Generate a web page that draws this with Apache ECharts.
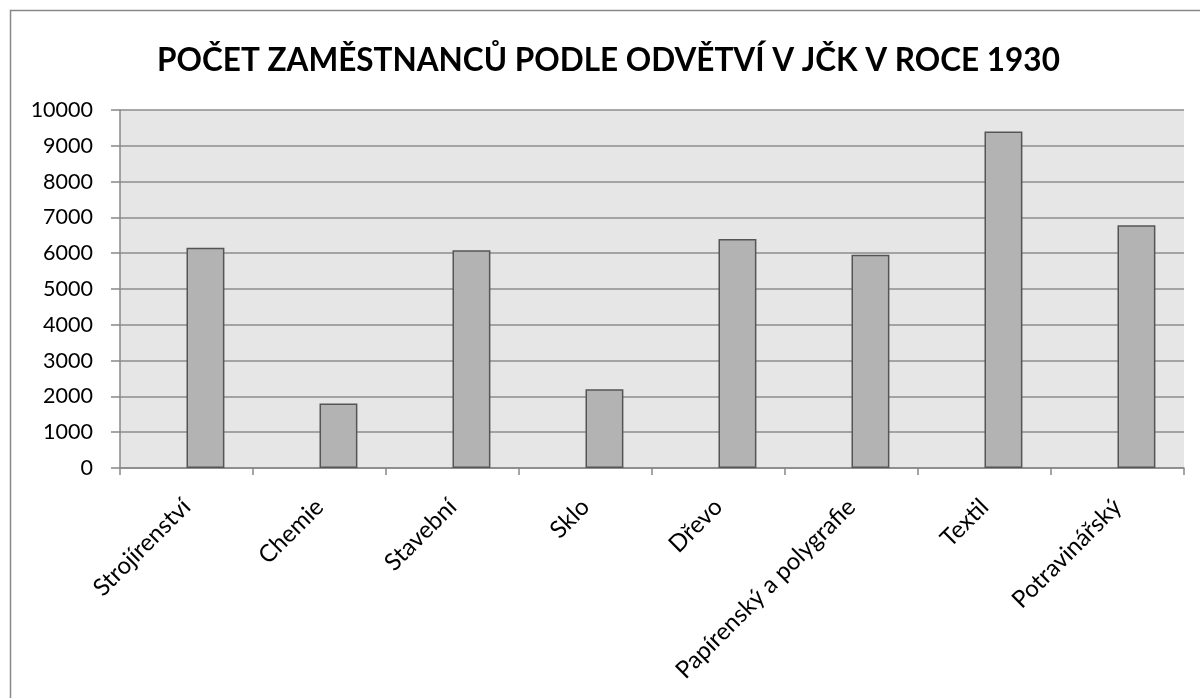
<!DOCTYPE html>
<html>
<head>
<meta charset="utf-8">
<script src="https://cdn.jsdelivr.net/npm/echarts@6/dist/echarts.min.js"></script>
<style>html,body{margin:0;padding:0;background:#fff}#c{width:1200px;height:698px}</style>
</head>
<body>
<div id="c"></div>
<script>
const titleText = 'POČET ZAMĚSTNANCŮ PODLE ODVĚTVÍ V JČK V ROCE 1930';
const categories = ['Strojírenství','Chemie','Stavební','Sklo','Dřevo','Papírenský a polygrafie','Textil','Potravinářský'];
const emptySeries = [null,null,null,null,null,null,null,null];
const employees = [6150,1800,6080,2200,6400,5960,9400,6780];
const yTicks = [0,1000,2000,3000,4000,5000,6000,7000,8000,9000,10000];

const chart = echarts.init(document.getElementById('c'), null, {renderer:'canvas'});
const font = 'Lato, "Noto Sans", sans-serif';
chart.setOption({
  animation:false,
  backgroundColor:'#fff',
  graphic:[{type:'rect', shape:{x:10.5,y:10.5,width:1200,height:700}, style:{fill:'none',stroke:'#888',lineWidth:1.5}, z:-1}],
  title:{text:titleText,left:152,top:40,textStyle:{fontFamily:font,fontWeight:'bold',fontSize:31.5,color:'#000'}},
  grid:{left:120,right:16,top:110,bottom:230,show:true,backgroundColor:'#e6e6e6',borderWidth:0},
  xAxis:{type:'category',data:categories,
    axisLine:{lineStyle:{color:'#888',width:1.5}},
    axisTick:{show:true,length:7,lineStyle:{color:'#888',width:1.5}},
    axisLabel:{rotate:45,fontFamily:font,fontSize:24,color:'#000',margin:18,interval:0,verticalAlign:'top',padding:[0,12,0,0]}},
  yAxis:{type:'value',min:yTicks[0],max:yTicks[yTicks.length-1],interval:1000,
    axisLine:{show:true,lineStyle:{color:'#888',width:1.5}},
    axisTick:{show:true,length:9,lineStyle:{color:'#888',width:1.5}},
    splitLine:{lineStyle:{color:'#8c8c8c',width:1.5}},
    axisLabel:{fontFamily:font,fontSize:21.5,color:'#000',margin:27,formatter:function(v){return String(v);}}},
  series:[
    {type:'bar',name:'Řada 1',data:emptySeries,barGap:'0%',barCategoryGap:'43%'},
    {type:'bar',name:'Řada 2',data:employees,barGap:'0%',barCategoryGap:'43%',
      itemStyle:{color:'#b3b3b3',borderColor:'#555',borderWidth:1.5}}
  ]
});
</script>
</body>
</html>
